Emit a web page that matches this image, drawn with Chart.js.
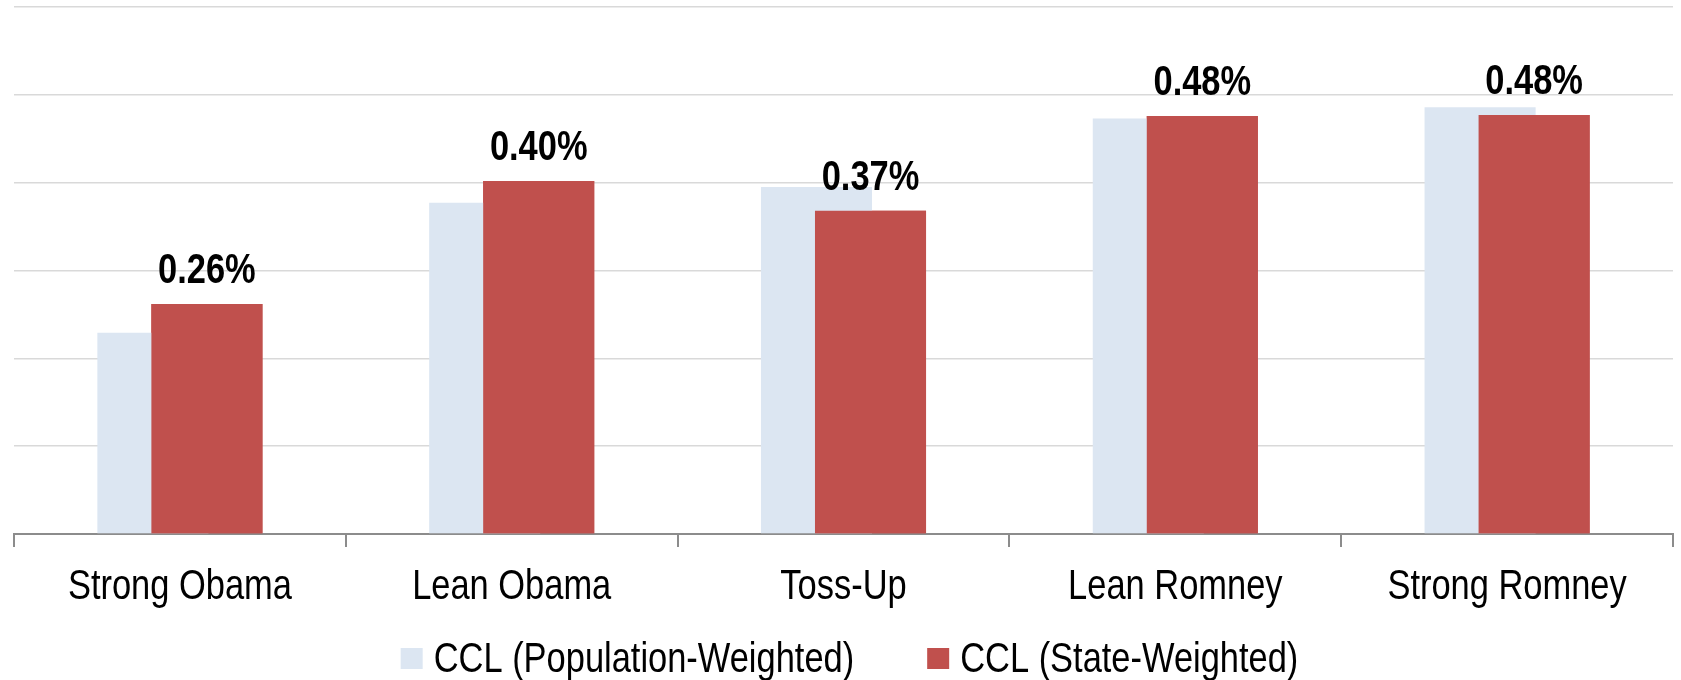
<!DOCTYPE html>
<html>
<head>
<meta charset="utf-8">
<script src="https://cdn.jsdelivr.net/npm/chart.js@4.4.1/dist/chart.umd.min.js"></script>
<style>
  html, body { margin: 0; padding: 0; background: #ffffff; }
  #wrap { width: 1681px; height: 680px; }
</style>
</head>
<body>
<div id="wrap"><canvas id="chart" width="1681" height="680"></canvas></div>
<script>
// Cook Political race ratings and CCL share, by weighting method
const categories = ['Strong Obama', 'Lean Obama', 'Toss-Up', 'Lean Romney', 'Strong Romney'];
const populationWeighted = [0.229, 0.377, 0.395, 0.473, 0.486];
const stateWeighted = [0.262, 0.402, 0.368, 0.476, 0.477];
const seriesNames = ['CCL (Population-Weighted)', 'CCL (State-Weighted)'];
const seriesColors = ['#DCE6F2', '#C0504D'];
const yTicks = { min: 0, max: 0.6, step: 0.1 };

const FONT = "'Liberation Sans', Arial, sans-serif";
const NARROW = 0.82;   // horizontal squeeze giving a narrow face

// Draw text squeezed horizontally around its anchor point
function narrowText(ctx, text, x, y, font, align) {
  ctx.save();
  ctx.font = font;
  ctx.fillStyle = '#000000';
  ctx.textBaseline = 'alphabetic';
  ctx.textAlign = align;
  ctx.translate(x, y);
  ctx.scale(NARROW, 1);
  ctx.fillText(text, 0, 0);
  ctx.restore();
}

const narrowWidth = (ctx, text, font) => {
  ctx.save();
  ctx.font = font;
  const w = ctx.measureText(text).width * NARROW;
  ctx.restore();
  return w;
};

// State-weighted bars in front, value labels, category labels and legend
const frontBarsAndLabels = {
  id: 'frontBarsAndLabels',
  afterDatasetsDraw(chart) {
    const meta = chart.getDatasetMeta(1);
    meta.controller.draw();
    meta.data.forEach((bar, i) => {
      const v = chart.data.datasets[1].data[i];
      narrowText(chart.ctx, v.toFixed(2) + '%', bar.x, bar.y - 21, 'bold 42px ' + FONT, 'center');
    });
  },
  afterDraw(chart) {
    const ctx = chart.ctx;
    const xs = chart.scales.x;
    const base = chart.chartArea.bottom;
    const font = '42px ' + FONT;

    chart.data.labels.forEach((lab, i) => {
      narrowText(ctx, lab, xs.getPixelForValue(i), base + 65, font, 'center');
    });

    // legend row
    const box = 22, boxH = 21, gap = 11, itemGap = 73;
    const items = chart.data.datasets.map((ds) => ({
      text: ds.label, color: ds.backgroundColor, w: narrowWidth(ctx, ds.label, font)
    }));
    const total = items.reduce((s, it) => s + box + gap + it.w, 0) + itemGap * (items.length - 1);
    let x = (chart.chartArea.left + chart.chartArea.right) / 2 + 6 - total / 2;
    items.forEach((it) => {
      ctx.save();
      ctx.fillStyle = it.color;
      ctx.fillRect(x, base + 114, box, boxH);
      ctx.restore();
      narrowText(ctx, it.text, x + box + gap, base + 137.5, font, 'left');
      x += box + gap + it.w + itemGap;
    });
  }
};

new Chart(document.getElementById('chart'), {
  type: 'bar',
  data: {
    labels: categories,
    datasets: [
      {
        label: seriesNames[0],
        data: populationWeighted,
        backgroundColor: seriesColors[0],
        borderWidth: 0
      },
      {
        label: seriesNames[1],
        data: stateWeighted,
        backgroundColor: seriesColors[1],
        borderWidth: 0
      }
    ]
  },
  options: {
    responsive: false,
    animation: false,
    devicePixelRatio: 1,
    categoryPercentage: 0.3256,
    barPercentage: 2.056,
    layout: { padding: { left: 14, right: 8, top: 7, bottom: 133 } },
    scales: {
      x: {
        grid: {
          drawOnChartArea: false,
          drawTicks: true,
          tickLength: 13,
          color: '#8c8c8c',
          lineWidth: 2
        },
        border: { color: '#8c8c8c', width: 2 },
        ticks: { display: false }
      },
      y: {
        min: yTicks.min,
        max: yTicks.max,
        ticks: { stepSize: yTicks.step, display: false },
        grid: { color: '#d9d9d9', lineWidth: 1.5, drawTicks: false },
        border: { display: false }
      }
    },
    plugins: {
      legend: { display: false },
      tooltip: { enabled: false }
    }
  },
  plugins: [frontBarsAndLabels]
});
</script>
</body>
</html>
